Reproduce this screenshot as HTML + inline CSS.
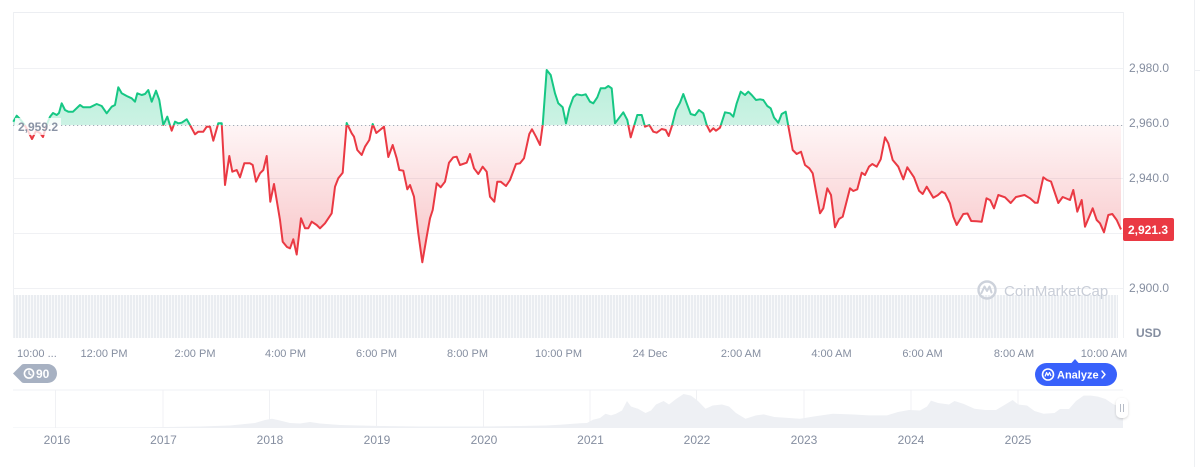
<!DOCTYPE html>
<html>
<head>
<meta charset="utf-8">
<style>
html,body{margin:0;padding:0;background:#fff;}
body{width:1200px;height:467px;overflow:hidden;}
svg{display:block;font-family:"Liberation Sans",sans-serif;}
</style>
</head>
<body>
<svg width="1200" height="467" viewBox="0 0 1200 467" xmlns="http://www.w3.org/2000/svg" xmlns:xlink="http://www.w3.org/1999/xlink">
<defs>
  <clipPath id="above"><rect x="0" y="0" width="1200" height="125.2"/></clipPath>
  <clipPath id="below"><rect x="0" y="125.2" width="1200" height="300"/></clipPath>
  <linearGradient id="gGreen" gradientUnits="userSpaceOnUse" x1="0" y1="65" x2="0" y2="125">
    <stop offset="0" stop-color="#16c784" stop-opacity="0.32"/>
    <stop offset="1" stop-color="#16c784" stop-opacity="0.22"/>
  </linearGradient>
  <linearGradient id="gRed" gradientUnits="userSpaceOnUse" x1="0" y1="125" x2="0" y2="262">
    <stop offset="0" stop-color="#ea3943" stop-opacity="0.05"/>
    <stop offset="1" stop-color="#ea3943" stop-opacity="0.30"/>
  </linearGradient>
  <pattern id="vol" patternUnits="userSpaceOnUse" x="13" y="0" width="3" height="10">
    <rect x="0" y="0" width="3" height="10" fill="#f9fafb"/>
    <rect x="0" y="0" width="2" height="10" fill="#eaedf1"/>
  </pattern>
  <filter id="sh" x="-50%" y="-50%" width="200%" height="200%">
    <feDropShadow dx="0" dy="1" stdDeviation="1.2" flood-color="#000" flood-opacity="0.18"/>
  </filter>
  <path id="areaPath" d="M13.3,121.7 L16.7,115.7 L19.3,118.3 L24,124 L28,131 L32,139 L36,131 L40,133 L43,137 L47,124 L50,116.7 L53,113 L56.7,115 L59,113 L61.7,103.3 L65,110 L68.3,111.7 L73,111.7 L80,105 L83.3,107.3 L90,107.3 L96.7,104 L101.7,106 L106.7,113.3 L111.7,106.7 L115,105 L118.3,87.3 L121.7,93.3 L126.7,96 L131.7,98.3 L135,101.7 L137.3,93.3 L141.7,95 L145,94 L148.3,90 L151.7,101.7 L156,90.7 L159.3,100 L163.3,125 L167.3,116.7 L171.7,130.7 L175,121.7 L178.3,123.3 L181.7,122.7 L186.7,119.3 L190,125 L195,134.3 L198.3,131.7 L203.3,131.7 L206.7,126.7 L210,126.7 L213.3,140.7 L218.3,123.3 L221.7,123.3 L225,185 L229.3,156 L232.3,171.7 L236.7,170 L240,177.3 L244.3,163.3 L250,163.3 L252.7,165 L256,181.7 L260,173.3 L263.3,170 L266.7,156 L270.3,201.7 L274,184 L280,220 L282.7,241.7 L287,247 L290,248.3 L293.3,239.3 L296.7,254.5 L301,218.3 L305,228.3 L308.3,228.3 L311.7,221.7 L316.7,225 L320,228.3 L325,223.3 L331.7,213.3 L335,186.7 L338.3,178.3 L342.7,172.7 L346.7,123 L351.7,133.3 L354,136.7 L357.3,150 L361.7,155 L365,146.7 L369.3,140 L372.7,124 L376.3,133 L380,130 L384,126.7 L388.3,157 L392.7,145 L396.7,158.3 L399.3,170 L403.3,170.7 L407.3,189.3 L410,185 L414,196.7 L418.3,233.3 L422.3,262.3 L426.7,236.7 L430,218.3 L432.7,210 L436.7,183.3 L440.7,187.3 L445,181.7 L449,162.7 L453.3,157.3 L456.7,156.7 L460,165 L466.7,162.7 L470,154 L474,168.3 L478.3,174 L482.7,166.7 L486.7,171.7 L490,196.7 L494.3,201.7 L497.3,181.7 L500.7,181.7 L506,186 L510,180 L516,164 L520,163.3 L524,158.3 L529.3,134 L532,129.3 L536,136.7 L540,145 L542.7,125 L546.7,70 L550.7,75 L555,93.3 L558.3,103.3 L562.7,107.3 L566,123.3 L569.3,108.3 L573.3,97.3 L576.7,94.3 L581.7,95.3 L585.7,94.3 L590,101.7 L593.3,103.3 L597.3,97.3 L600.7,88.3 L605,88.3 L608.3,86 L611.7,88.3 L615,123.3 L620,116.7 L623.3,112.3 L627.3,120 L630.7,137.3 L637.3,115 L641.7,115 L645,126.7 L649.3,125 L653.3,131.7 L656.7,132.7 L661.7,129 L665.7,130 L668.7,136 L671.7,126.7 L676,110 L680,102.7 L683.3,94 L686.7,103.3 L690.7,114 L695,115.3 L699,110 L703.3,113.3 L706.7,125 L710,131.7 L713.3,128.3 L716,130.7 L720,127.7 L725,112.3 L730,113.3 L733.3,116.7 L736.7,103.3 L740.7,91.7 L745,95 L748.3,91.7 L751.7,95 L756,100 L760,99.3 L763.3,100 L767.3,106 L770.7,108.3 L774,117.5 L778.3,122.7 L781.7,114 L785.7,111.7 L788.3,126 L792.7,150 L796.7,154 L801,151.7 L805,165 L809.3,168.3 L812.7,173.3 L820,213.3 L823.3,208.3 L827.3,188.3 L831,195 L835,227.3 L839,219 L842.7,216.7 L850,188.3 L853.3,191 L857.3,189.3 L861.7,172.7 L865,175 L869,166.7 L872.3,164 L876.7,166.7 L880.7,159.3 L885,137.3 L888.3,143.3 L892.7,160 L898.3,166.7 L903.3,179.3 L907.3,167.3 L914,177.3 L919,190.7 L922.7,194 L926.7,186.7 L933.3,197.7 L937.7,195.3 L941.7,191.7 L945,193.3 L950,203.3 L953.3,216.7 L956.7,225 L963.3,214 L967.5,213.5 L971.2,221 L976.7,221.3 L981.7,221.7 L986.5,198.3 L990.3,200.3 L994,208.3 L998.3,195 L1005,197.3 L1010.7,203 L1016,197 L1024.5,195 L1030,198.3 L1035,202.7 L1037.7,202.7 L1043.3,177.3 L1047,180 L1051,181.5 L1058.3,203 L1062.7,197 L1070,200 L1073.3,190 L1077.3,211.7 L1081.7,200 L1085,226.7 L1092.7,208.3 L1096.7,220 L1100,223.3 L1104,232.3 L1108.3,215 L1112.3,214 L1116.7,220 L1121,229.4 L1121,125.2 L13.3,125.2 Z"/>
  <path id="linePath" d="M13.3,121.7 L16.7,115.7 L19.3,118.3 L24,124 L28,131 L32,139 L36,131 L40,133 L43,137 L47,124 L50,116.7 L53,113 L56.7,115 L59,113 L61.7,103.3 L65,110 L68.3,111.7 L73,111.7 L80,105 L83.3,107.3 L90,107.3 L96.7,104 L101.7,106 L106.7,113.3 L111.7,106.7 L115,105 L118.3,87.3 L121.7,93.3 L126.7,96 L131.7,98.3 L135,101.7 L137.3,93.3 L141.7,95 L145,94 L148.3,90 L151.7,101.7 L156,90.7 L159.3,100 L163.3,125 L167.3,116.7 L171.7,130.7 L175,121.7 L178.3,123.3 L181.7,122.7 L186.7,119.3 L190,125 L195,134.3 L198.3,131.7 L203.3,131.7 L206.7,126.7 L210,126.7 L213.3,140.7 L218.3,123.3 L221.7,123.3 L225,185 L229.3,156 L232.3,171.7 L236.7,170 L240,177.3 L244.3,163.3 L250,163.3 L252.7,165 L256,181.7 L260,173.3 L263.3,170 L266.7,156 L270.3,201.7 L274,184 L280,220 L282.7,241.7 L287,247 L290,248.3 L293.3,239.3 L296.7,254.5 L301,218.3 L305,228.3 L308.3,228.3 L311.7,221.7 L316.7,225 L320,228.3 L325,223.3 L331.7,213.3 L335,186.7 L338.3,178.3 L342.7,172.7 L346.7,123 L351.7,133.3 L354,136.7 L357.3,150 L361.7,155 L365,146.7 L369.3,140 L372.7,124 L376.3,133 L380,130 L384,126.7 L388.3,157 L392.7,145 L396.7,158.3 L399.3,170 L403.3,170.7 L407.3,189.3 L410,185 L414,196.7 L418.3,233.3 L422.3,262.3 L426.7,236.7 L430,218.3 L432.7,210 L436.7,183.3 L440.7,187.3 L445,181.7 L449,162.7 L453.3,157.3 L456.7,156.7 L460,165 L466.7,162.7 L470,154 L474,168.3 L478.3,174 L482.7,166.7 L486.7,171.7 L490,196.7 L494.3,201.7 L497.3,181.7 L500.7,181.7 L506,186 L510,180 L516,164 L520,163.3 L524,158.3 L529.3,134 L532,129.3 L536,136.7 L540,145 L542.7,125 L546.7,70 L550.7,75 L555,93.3 L558.3,103.3 L562.7,107.3 L566,123.3 L569.3,108.3 L573.3,97.3 L576.7,94.3 L581.7,95.3 L585.7,94.3 L590,101.7 L593.3,103.3 L597.3,97.3 L600.7,88.3 L605,88.3 L608.3,86 L611.7,88.3 L615,123.3 L620,116.7 L623.3,112.3 L627.3,120 L630.7,137.3 L637.3,115 L641.7,115 L645,126.7 L649.3,125 L653.3,131.7 L656.7,132.7 L661.7,129 L665.7,130 L668.7,136 L671.7,126.7 L676,110 L680,102.7 L683.3,94 L686.7,103.3 L690.7,114 L695,115.3 L699,110 L703.3,113.3 L706.7,125 L710,131.7 L713.3,128.3 L716,130.7 L720,127.7 L725,112.3 L730,113.3 L733.3,116.7 L736.7,103.3 L740.7,91.7 L745,95 L748.3,91.7 L751.7,95 L756,100 L760,99.3 L763.3,100 L767.3,106 L770.7,108.3 L774,117.5 L778.3,122.7 L781.7,114 L785.7,111.7 L788.3,126 L792.7,150 L796.7,154 L801,151.7 L805,165 L809.3,168.3 L812.7,173.3 L820,213.3 L823.3,208.3 L827.3,188.3 L831,195 L835,227.3 L839,219 L842.7,216.7 L850,188.3 L853.3,191 L857.3,189.3 L861.7,172.7 L865,175 L869,166.7 L872.3,164 L876.7,166.7 L880.7,159.3 L885,137.3 L888.3,143.3 L892.7,160 L898.3,166.7 L903.3,179.3 L907.3,167.3 L914,177.3 L919,190.7 L922.7,194 L926.7,186.7 L933.3,197.7 L937.7,195.3 L941.7,191.7 L945,193.3 L950,203.3 L953.3,216.7 L956.7,225 L963.3,214 L967.5,213.5 L971.2,221 L976.7,221.3 L981.7,221.7 L986.5,198.3 L990.3,200.3 L994,208.3 L998.3,195 L1005,197.3 L1010.7,203 L1016,197 L1024.5,195 L1030,198.3 L1035,202.7 L1037.7,202.7 L1043.3,177.3 L1047,180 L1051,181.5 L1058.3,203 L1062.7,197 L1070,200 L1073.3,190 L1077.3,211.7 L1081.7,200 L1085,226.7 L1092.7,208.3 L1096.7,220 L1100,223.3 L1104,232.3 L1108.3,215 L1112.3,214 L1116.7,220 L1121,229.4"/>
</defs>

<!-- outer right border -->
<line x1="1194.5" y1="0" x2="1194.5" y2="467" stroke="#eef0f3" stroke-width="1"/>
<line x1="1194" y1="70.5" x2="1200" y2="70.5" stroke="#eef0f3" stroke-width="1"/>

<!-- plot frame -->
<line x1="13" y1="12.5" x2="1123" y2="12.5" stroke="#eceef2"/>
<line x1="13.5" y1="12" x2="13.5" y2="338" stroke="#eef0f3"/>
<line x1="1123.5" y1="12" x2="1123.5" y2="338" stroke="#eef0f3"/>

<!-- grid lines -->
<g stroke="#f0f1f4" stroke-width="1">
  <line x1="13" y1="68.5" x2="1123" y2="68.5"/>
  <line x1="13" y1="178.5" x2="1123" y2="178.5"/>
  <line x1="13" y1="233.5" x2="1123" y2="233.5"/>
  <line x1="13" y1="288.5" x2="1123" y2="288.5"/>
</g>

<!-- volume bars -->
<rect x="14" y="295" width="1104" height="43" fill="url(#vol)"/>

<!-- watermark -->
<g>
  <circle cx="987" cy="290" r="8.5" fill="none" stroke="#cdd2db" stroke-width="2.4"/>
  <path d="M981.5,293 L984.5,286.5 L987,291 L989.5,286.5 L991.5,292.5" fill="none" stroke="#cdd2db" stroke-width="2" stroke-linejoin="round" stroke-linecap="round"/>
  <text x="1004" y="296" font-size="15" fill="#c9ced8">CoinMarketCap</text>
</g>

<!-- area fills -->
<g clip-path="url(#above)"><use xlink:href="#areaPath" href="#areaPath" fill="url(#gGreen)"/></g>
<g clip-path="url(#below)"><use xlink:href="#areaPath" href="#areaPath" fill="url(#gRed)"/></g>

<!-- baseline dotted -->
<line x1="13" y1="125.5" x2="1123" y2="125.5" stroke="#a3aab7" stroke-width="1" stroke-dasharray="1.2 2.8"/>

<!-- lines -->
<g clip-path="url(#above)"><use xlink:href="#linePath" href="#linePath" fill="none" stroke="#16c784" stroke-width="2" stroke-linejoin="round"/></g>
<g clip-path="url(#below)"><use xlink:href="#linePath" href="#linePath" fill="none" stroke="#ea3943" stroke-width="2" stroke-linejoin="round"/></g>

<!-- reference label -->
<rect x="15" y="118" width="46" height="17" fill="#ffffff" fill-opacity="0.78"/>
<text x="18" y="131" font-size="12" font-weight="bold" fill="#8a93a5">2,959.2</text>

<!-- price axis -->
<g font-size="12" fill="#858ea0">
  <text x="1129" y="72">2,980.0</text>
  <text x="1129" y="127">2,960.0</text>
  <text x="1129" y="182">2,940.0</text>
  <text x="1129" y="292">2,900.0</text>
  <text x="1136" y="337" font-weight="bold">USD</text>
</g>
<rect x="1123" y="218" width="51" height="23" rx="2" fill="#ea3943"/>
<text x="1128" y="234" font-size="12" font-weight="bold" fill="#ffffff">2,921.3</text>

<!-- time axis -->
<g font-size="11" fill="#858ea0" text-anchor="middle">
  <text x="17" y="357" text-anchor="start">10:00 ...</text>
  <text x="104" y="357">12:00 PM</text>
  <text x="195" y="357">2:00 PM</text>
  <text x="285.5" y="357">4:00 PM</text>
  <text x="376.5" y="357">6:00 PM</text>
  <text x="467.5" y="357">8:00 PM</text>
  <text x="558.5" y="357">10:00 PM</text>
  <text x="650" y="357">24 Dec</text>
  <text x="741" y="357">2:00 AM</text>
  <text x="831.5" y="357">4:00 AM</text>
  <text x="922.5" y="357">6:00 AM</text>
  <text x="1014" y="357">8:00 AM</text>
  <text x="1104" y="357">10:00 AM</text>
</g>

<!-- 90 badge -->
<path d="M13,373.5 L21,365.5 Q22,364 24,364 L47.5,364 A9.5,9.5 0 0 1 47.5,383 L24,383 Q22,383 21,381.5 Z" fill="#a7b1c2"/>
<circle cx="29" cy="373.5" r="4.6" fill="none" stroke="#fff" stroke-width="1.6"/>
<path d="M29,371 L29,373.8 L31,375" fill="none" stroke="#fff" stroke-width="1.3" stroke-linecap="round"/>
<text x="36" y="378" font-size="12" font-weight="bold" fill="#ffffff">90</text>

<!-- Analyze button -->
<path d="M1071,363.5 L1075,359 L1079,363.5 Z" fill="#3861fb"/>
<rect x="1035" y="363" width="82" height="23" rx="11.5" fill="#3861fb"/>
<circle cx="1048" cy="374.5" r="5.5" fill="none" stroke="#fff" stroke-width="1.6"/>
<path d="M1045,376.5 L1046.6,372.5 L1048,375.5 L1049.5,372.5 L1051,376" fill="none" stroke="#fff" stroke-width="1.2" stroke-linejoin="round"/>
<text x="1057" y="378.5" font-size="11" font-weight="bold" fill="#ffffff">Analyze</text>
<path d="M1102,371 L1105,374.5 L1102,378" fill="none" stroke="#fff" stroke-width="1.4" stroke-linecap="round" stroke-linejoin="round"/>

<!-- navigator -->
<line x1="13" y1="390" x2="1123" y2="390" stroke="#eff1f4"/>
<g stroke="#f0f1f4">
  <line x1="55.5" y1="390" x2="55.5" y2="428"/>
  <line x1="163" y1="390" x2="163" y2="428"/>
  <line x1="269.5" y1="390" x2="269.5" y2="428"/>
  <line x1="376.5" y1="390" x2="376.5" y2="428"/>
  <line x1="483.5" y1="390" x2="483.5" y2="428"/>
  <line x1="590" y1="390" x2="590" y2="428"/>
  <line x1="696.5" y1="390" x2="696.5" y2="428"/>
  <line x1="804" y1="390" x2="804" y2="428"/>
  <line x1="911" y1="390" x2="911" y2="428"/>
  <line x1="1018" y1="390" x2="1018" y2="428"/>
</g>
<path d="M13,427.5 L150,427.3 L200,426.5 L230,425.5 L255,423 L265,420 L272,418.8 L280,420.5 L290,423 L300,423.5 L310,422 L320,423.5 L340,425 L380,426 L420,426.5 L480,426.5 L520,426 L546,425.5 L560,424.7 L580,423.3 L587,423 L593,419.7 L600,418 L605.5,413.8 L611,415.4 L616,413.8 L622,410.5 L627,401 L631,406.5 L638,408.8 L645.5,413 L651,410.5 L656,404.5 L663.6,401 L669,404.5 L676,399 L683.6,394 L691,395.6 L698,401 L705.5,408.8 L712.7,405.5 L722,404.5 L729,406.5 L736,413 L745.5,418.7 L756,415.4 L763.6,414.4 L774.5,417 L785.5,417.7 L800,418.7 L814.5,416.4 L832.7,413.8 L851,414.4 L869,415.4 L887,415.4 L898,412 L909,410 L920,410.5 L927,406.5 L931,400.6 L938,403 L949,404.5 L954.5,401 L963.6,403.9 L974.5,408.8 L985.5,410 L996,410 L1003.6,405.5 L1012.7,400 L1018,404.5 L1027,405.5 L1034.5,411 L1043.6,413.8 L1054.5,413 L1060,409 L1069,409 L1076,401 L1083.6,395.6 L1091,395.6 L1098,396.6 L1105.5,399 L1113,404 L1120,407 L1123,408 L1123,428 L13,428 Z" fill="#eef0f4"/>
<rect x="1116" y="398" width="12" height="20" rx="5" fill="#ffffff" filter="url(#sh)"/>
<line x1="1120.5" y1="404" x2="1120.5" y2="412" stroke="#b6bcc7" stroke-width="1"/>
<line x1="1123.5" y1="404" x2="1123.5" y2="412" stroke="#b6bcc7" stroke-width="1"/>

<g font-size="12" fill="#858ea0" text-anchor="middle">
  <text x="57" y="444">2016</text>
  <text x="163.5" y="444">2017</text>
  <text x="270" y="444">2018</text>
  <text x="377" y="444">2019</text>
  <text x="484" y="444">2020</text>
  <text x="590.5" y="444">2021</text>
  <text x="697" y="444">2022</text>
  <text x="804" y="444">2023</text>
  <text x="911" y="444">2024</text>
  <text x="1018" y="444">2025</text>
</g>
</svg>
</body>
</html>
